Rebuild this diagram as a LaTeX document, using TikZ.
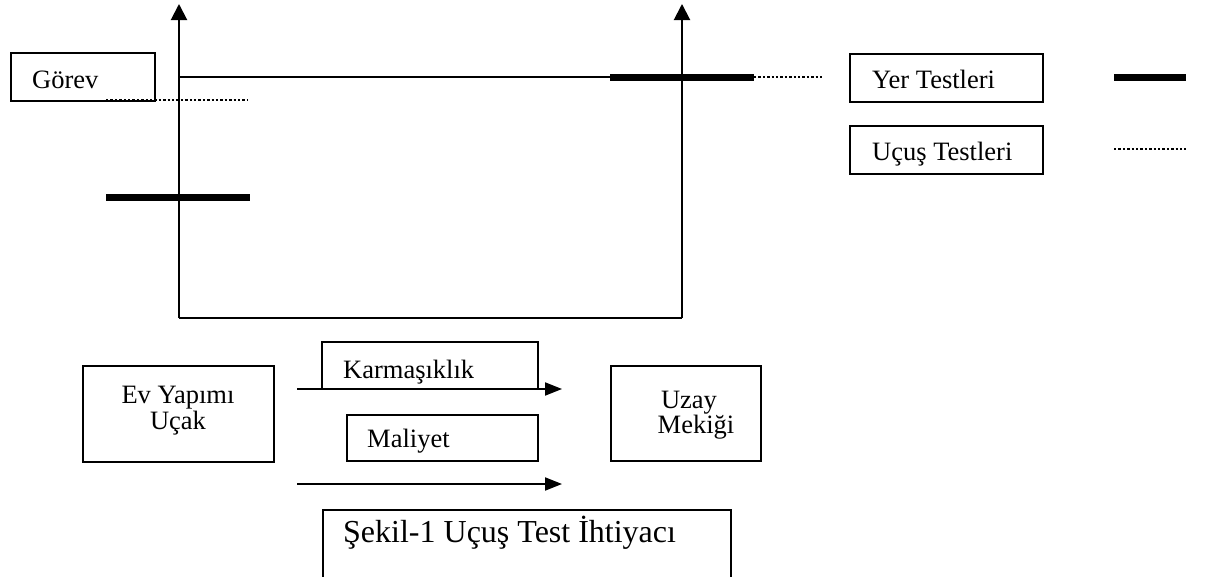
\documentclass[tikz,border=0pt]{standalone}
\usepackage{fontspec}
\setmainfont{Liberation Serif}
\usetikzlibrary{arrows.meta}
\begin{document}
\begin{tikzpicture}[x=1pt,y=-1pt,
  box/.style={draw,line width=2pt,inner sep=0pt,anchor=north west},
  txt/.style={inner sep=0pt,anchor=base west,font=\fontsize{26.5}{31}\selectfont},
  ctxt/.style={inner sep=0pt,anchor=base,font=\fontsize{26.5}{31}\selectfont},
  thin/.style={line width=2pt},
  thickbar/.style={line width=7pt},
  dotline/.style={line width=2.4pt,dash pattern=on 2.4pt off 2pt},
  axisarrow/.style={thin,-{Triangle[length=16pt,width=16pt]}},
  flowarrow/.style={thin,-{Triangle[length=17pt,width=13pt]}}
]
\useasboundingbox (0,0) rectangle (1205,576);
\clip (0,0) rectangle (1205,576);
% axes
\coordinate (lt) at (179,4);
\coordinate (lb) at (179,318);
\coordinate (rb) at (682,318);
\coordinate (rt) at (682,4);
\draw[thin] (lb) -- (rb);
\draw[axisarrow] (lb) -- (lt);
\draw[axisarrow] (rb) -- (rt);
% Gorev box
\node[box,minimum width=144pt,minimum height=48pt] (gorev) at (10,52) {};
\node[txt] (gorevt) at (32,88) {Görev};
% lines
\coordinate (g1) at (179,77);
\coordinate (g2) at (610,77);
\coordinate (g3) at (754,77);
\coordinate (g4) at (823,77);
\draw[thin] (g1) -- (g2);
\draw[thickbar] (g2) -- (g3);
\draw[dotline] (g3) -- (g4);
\coordinate (d1) at (106,100);
\coordinate (d2) at (247,100);
\draw[dotline] (d1) -- (d2);
\coordinate (t1) at (106,197);
\coordinate (t2) at (250,197);
\draw[thickbar] (t1) -- (t2);
% legend
\node[box,minimum width=193pt,minimum height=48pt] (yer) at (849,53) {};
\node[txt] (yert) at (872,88) {Yer Testleri};
\node[box,minimum width=193pt,minimum height=48pt] (ucus) at (849,125) {};
\node[txt] (ucust) at (872,160) {Uçuş Testleri};
\coordinate (l1) at (1114,77);
\coordinate (l2) at (1186,77);
\draw[thickbar] (l1) -- (l2);
\coordinate (l3) at (1114,149);
\coordinate (l4) at (1186,149);
\draw[dotline] (l3) -- (l4);
% bottom part
\node[box,minimum width=191pt,minimum height=96pt] (ev) at (82,365) {};
\node[ctxt] (evt1) at (178,403) {Ev Yapımı};
\node[ctxt] (evt2) at (178,429) {Uçak};
\node[box,minimum width=150pt,minimum height=95pt] (uzay) at (610,365) {};
\node[ctxt] (uzt1) at (689,408) {Uzay};
\node[ctxt] (uzt2) at (696,433) {Mekiği};
\draw[line width=2pt] (322,389) -- (322,342) -- (538,342) -- (538,389);
\node[txt] (karm) at (343,378) {Karmaşıklık};
\node[box,minimum width=191pt,minimum height=46pt] (mal) at (346,414) {};
\node[txt] (malt) at (367,447) {Maliyet};
\coordinate (a1) at (297,389);
\coordinate (a2) at (562,389);
\draw[flowarrow] (a1) -- (a2);
\coordinate (b1) at (297,484);
\coordinate (b2) at (562,484);
\draw[flowarrow] (b1) -- (b2);
% caption
\node[box,minimum width=408pt,minimum height=90pt] (cap) at (322,509) {};
\node[inner sep=0pt,anchor=base west,font=\fontsize{32}{38}\selectfont] (capt) at (343,542) {Şekil-1 Uçuş Test İhtiyacı};
\end{tikzpicture}
\end{document}
